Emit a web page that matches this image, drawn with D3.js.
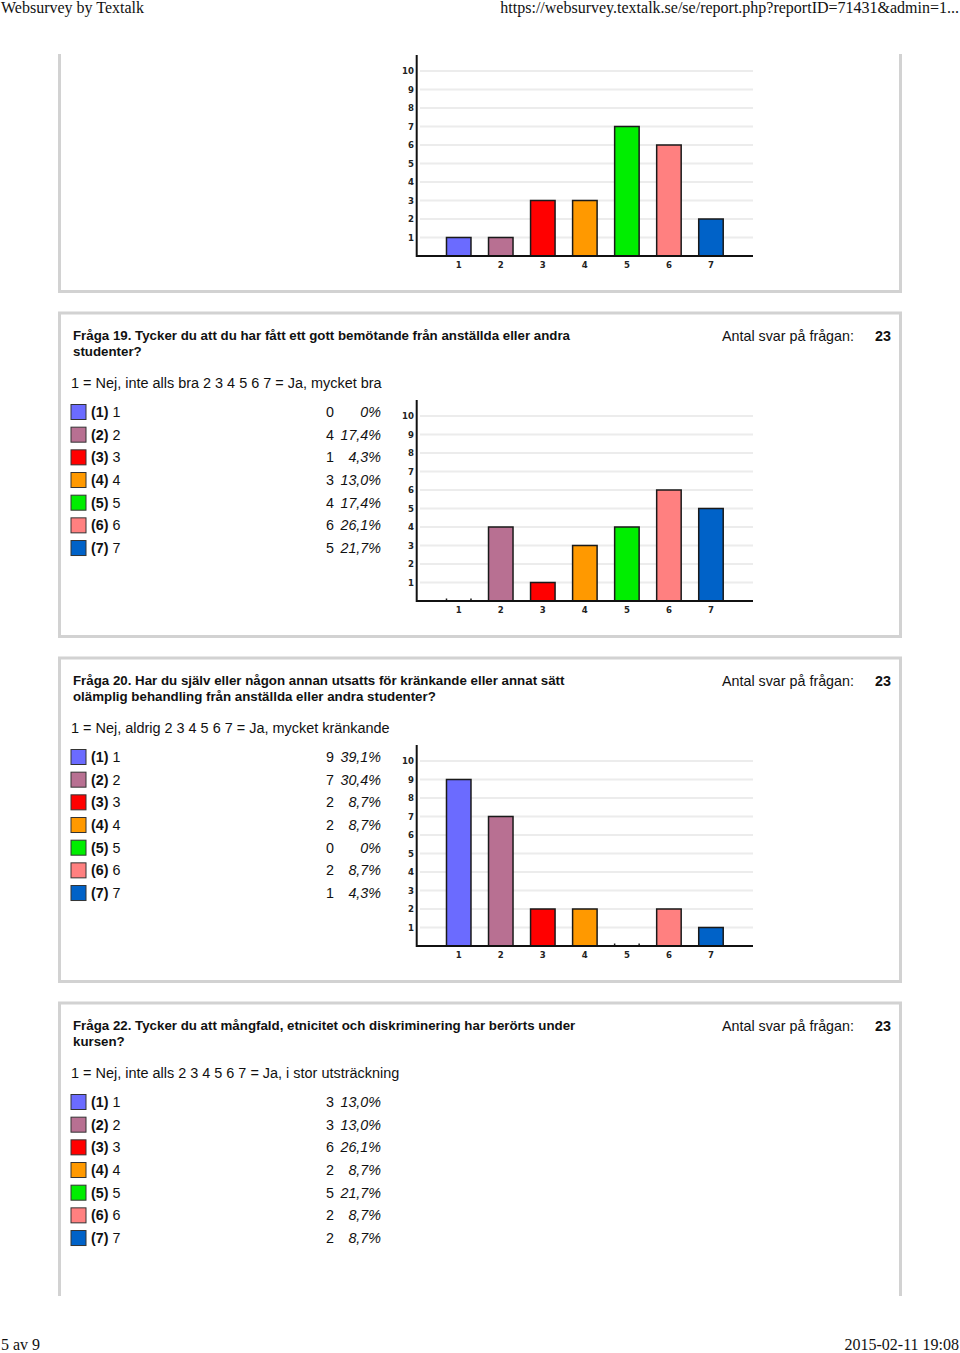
<!DOCTYPE html>
<html><head><meta charset="utf-8">
<script src="https://cdn.jsdelivr.net/npm/d3@7"></script>
<style>
html,body{margin:0;padding:0;background:#fff;}
svg{display:block;}
</style></head>
<body>
<script>
// ---------- data ----------
const categories = ["1","2","3","4","5","6","7"];
const colors = ["#6b6bff","#b87092","#ff0000","#ff9900","#00ee00","#ff8080","#0062c8"];
const yTicks = [1,2,3,4,5,6,7,8,9,10];

const q18Values = [1,1,3,3,7,6,2];

const q19Title = ["Fråga 19. Tycker du att du har fått ett gott bemötande från anställda eller andra","studenter?"];
const q19Scale = "1 = Nej, inte alls bra 2 3 4 5 6 7 = Ja, mycket bra";
const q19Values = [0,4,1,3,4,6,5];
const q19Pct = ["0%","17,4%","4,3%","13,0%","17,4%","26,1%","21,7%"];

const q20Title = ["Fråga 20. Har du själv eller någon annan utsatts för kränkande eller annat sätt","olämplig behandling från anställda eller andra studenter?"];
const q20Scale = "1 = Nej, aldrig 2 3 4 5 6 7 = Ja, mycket kränkande";
const q20Values = [9,7,2,2,0,2,1];
const q20Pct = ["39,1%","30,4%","8,7%","8,7%","0%","8,7%","4,3%"];

const q22Title = ["Fråga 22. Tycker du att mångfald, etnicitet och diskriminering har berörts under","kursen?"];
const q22Scale = "1 = Nej, inte alls 2 3 4 5 6 7 = Ja, i stor utsträckning";
const q22Values = [3,3,6,2,5,2,2];
const q22Pct = ["13,0%","13,0%","26,1%","8,7%","21,7%","8,7%","8,7%"];

const answersLabel = "Antal svar på frågan:";
const answersCount = "23";

// ---------- layout ----------
const W = 960, H = 1353;
const sans = "'Liberation Sans', Arial, Helvetica, sans-serif";
const serif = "'Liberation Serif', 'Times New Roman', serif";
const narrow = "'Liberation Sans Narrow', 'DejaVu Sans Condensed', 'Liberation Sans', sans-serif";

const svg = d3.select("body").append("svg").attr("width", W).attr("height", H);

// page header / footer
svg.append("text").attr("x", 1).attr("y", 13).attr("font-family", serif).attr("font-size", 16)
  .attr("fill", "#111").text("Websurvey by Textalk");
svg.append("text").attr("x", 959).attr("y", 13).attr("text-anchor", "end").attr("font-family", serif)
  .attr("font-size", 16).attr("fill", "#111").text("https://websurvey.textalk.se/se/report.php?reportID=71431&admin=1...");
svg.append("text").attr("x", 1).attr("y", 1350).attr("font-family", serif).attr("font-size", 16)
  .attr("fill", "#111").text("5 av 9");
svg.append("text").attr("x", 959).attr("y", 1350).attr("text-anchor", "end").attr("font-family", serif)
  .attr("font-size", 16).attr("fill", "#111").text("2015-02-11 19:08");

svg.append("defs").append("clipPath").attr("id", "content")
  .append("rect").attr("x", 0).attr("y", 54).attr("width", W).attr("height", 1296 - 54);

const content = svg.append("g").attr("clip-path", "url(#content)");

const panels = [
  {values: q18Values, title: null, chart: true},
  {values: q19Values, title: q19Title, scale: q19Scale, pct: q19Pct, chart: true},
  {values: q20Values, title: q20Title, scale: q20Scale, pct: q20Pct, chart: true},
  {values: q22Values, title: q22Title, scale: q22Scale, pct: q22Pct, chart: false}
];

const panelPitch = 345, firstTop = -32, panelH = 323.5;
const x = d3.scalePoint().domain(categories).range([416.7, 753]).padding(1);
const barW = 24.5;

panels.forEach((p, k) => {
  const top = firstTop + panelPitch * k;
  const g = content.append("g");
  g.append("rect").attr("x", 59.5).attr("y", top).attr("width", 841).attr("height", panelH)
    .attr("fill", "none").attr("stroke", "#d2d2d2").attr("stroke-width", 3);

  if (p.title) {
    p.title.forEach((line, i) => {
      g.append("text").attr("x", 73).attr("y", top + 22 + i * 16).attr("dy", "0.35em")
        .attr("font-family", sans).attr("font-size", 13.3).attr("font-weight", "bold")
        .attr("fill", "#111").text(line);
    });
    g.append("text").attr("x", 722).attr("y", top + 23).attr("dy", "0.35em")
      .attr("font-family", sans).attr("font-size", 14.3).attr("fill", "#111").text(answersLabel);
    g.append("text").attr("x", 891).attr("y", top + 23).attr("dy", "0.35em").attr("text-anchor", "end")
      .attr("font-family", sans).attr("font-size", 14.3).attr("font-weight", "bold").attr("fill", "#111").text(answersCount);
    g.append("text").attr("x", 71).attr("y", top + 70).attr("dy", "0.35em")
      .attr("font-family", sans).attr("font-size", 14.45).attr("fill", "#111").text(p.scale);

    const rows = g.selectAll(".row").data(categories).join("g").attr("class", "row")
      .attr("transform", (d, i) => `translate(0,${top + 99 + i * 22.67})`);
    rows.append("rect").attr("x", 71).attr("y", -7.5).attr("width", 15).attr("height", 15)
      .attr("fill", (d, i) => colors[i]).attr("stroke", "#333").attr("stroke-width", 1);
    const lt = rows.append("text").attr("x", 91).attr("dy", "0.35em").attr("font-family", sans)
      .attr("font-size", 14.3).attr("fill", "#111");
    lt.append("tspan").attr("font-weight", "bold").text(d => `(${d})`);
    lt.append("tspan").text(d => ` ${d}`);
    rows.append("text").attr("x", 326).attr("dy", "0.35em").attr("font-family", sans)
      .attr("font-size", 14.3).attr("fill", "#111").text((d, i) => p.values[i]);
    rows.append("text").attr("x", 381).attr("dy", "0.35em").attr("text-anchor", "end")
      .attr("font-family", sans).attr("font-size", 14.3).attr("font-style", "italic")
      .attr("fill", "#111").text((d, i) => p.pct[i]);
  }

  if (p.chart) {
    const y = d3.scaleLinear().domain([0, 10]).range([top + 288, top + 103]);
    const cg = g.append("g");
    cg.selectAll(".grid").data(yTicks).join("line")
      .attr("x1", 420).attr("x2", 753).attr("y1", d => y(d)).attr("y2", d => y(d))
      .attr("stroke", "#ececec").attr("stroke-width", 2);
    cg.selectAll(".yl").data(yTicks).join("text")
      .attr("x", 414).attr("y", d => y(d)).attr("dy", "0.35em").attr("text-anchor", "end")
      .attr("font-family", narrow).attr("font-weight", "bold").attr("font-size", 9.5)
      .attr("fill", "#222").text(d => d);
    cg.selectAll(".bar").data(categories.filter((c, i) => p.values[i] > 0)).join("rect")
      .attr("x", d => x(d) - barW / 2)
      .attr("y", d => y(p.values[categories.indexOf(d)]))
      .attr("width", barW)
      .attr("height", d => y(0) - y(p.values[categories.indexOf(d)]))
      .attr("fill", d => colors[categories.indexOf(d)])
      .attr("stroke", "#1a1a1a").attr("stroke-width", 1.5);
    const zeros = categories.filter((c, i) => p.values[i] === 0);
    zeros.forEach(d => {
      [-barW / 2, barW / 2].forEach(off => {
        cg.append("line").attr("x1", x(d) + off).attr("x2", x(d) + off)
          .attr("y1", y(0) - 2.5).attr("y2", y(0)).attr("stroke", "#1a1a1a").attr("stroke-width", 1.5);
      });
    });
    cg.append("line").attr("x1", 416.7).attr("x2", 416.7).attr("y1", top + 87).attr("y2", y(0) + 1)
      .attr("stroke", "#111").attr("stroke-width", 2);
    cg.append("line").attr("x1", 416).attr("x2", 753).attr("y1", y(0)).attr("y2", y(0))
      .attr("stroke", "#111").attr("stroke-width", 2);
    cg.selectAll(".xl").data(categories).join("text")
      .attr("x", d => x(d)).attr("y", y(0) + 9).attr("dy", "0.35em").attr("text-anchor", "middle")
      .attr("font-family", narrow).attr("font-weight", "bold").attr("font-size", 9.5)
      .attr("fill", "#222").text(d => d);
  }
});
</script>
</body></html>
